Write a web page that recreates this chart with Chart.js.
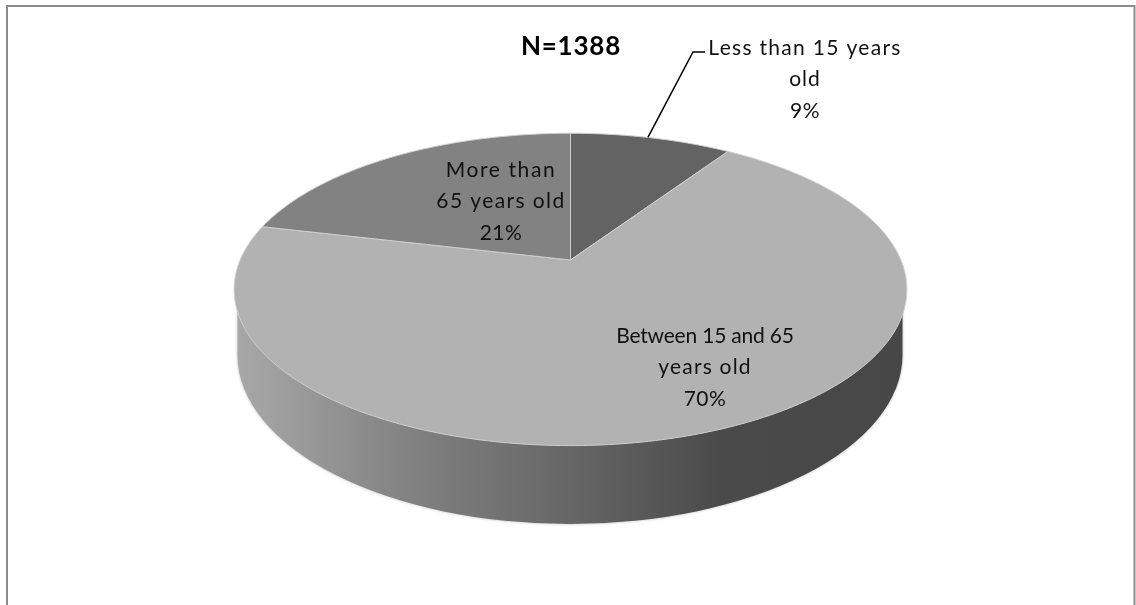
<!DOCTYPE html>
<html>
<head>
<meta charset="utf-8">
<style>html,body{margin:0;padding:0;background:#fff}canvas{display:block}</style>
<script src="https://cdn.jsdelivr.net/npm/chart.js@4/dist/chart.umd.js"></script>
</head>
<body>
<canvas id="c" width="1136" height="605"></canvas>
<script>
const categories = ['Less than 15 years old', 'Between 15 and 65 years old', 'More than 65 years old'];
const shares = [9.3, 69.4, 21.3];
const percentLabels = ['9%', '70%', '21%'];
const sliceColors = ['#636363', '#b2b2b2', '#828282'];
const labelLines = [['Less than 15 years', 'old'], ['Between 15 and 65', 'years old'], ['More than', '65 years old']];
const labelCentres = [[805, 48], [705, 336], [501, 170]];
const labelSpacing = [[1.3, 1, 0.5], [-0.2, 1.2, 0.5], [1.6, 1.4, 0.5]];
const chartTitle = 'N=1388';

// perspective of the pie plane
const persp = { rx: 331 / 260, ry: 150.9 / 260, c: -0.1885 };
const wall = { dx: -0.5, dy: 95, rx: 332.5, ry: 169, shoulder: 52 };

function project(arc, angle, rho) {
  const R = arc.outerRadius;
  const u = Math.cos(angle) * rho, v = Math.sin(angle) * rho;
  const d = 1 + persp.c * v;
  return [arc.x + persp.rx * R * u / d, arc.y + persp.ry * R * v / d];
}

class PerspectiveArc extends Chart.ArcElement {
  static id = 'perspectiveArc';
  draw(ctx) {
    const o = this.options;
    const a0 = this.startAngle, a1 = this.endAngle;
    const n = Math.max(8, Math.ceil((a1 - a0) * 60));
    ctx.save();
    ctx.beginPath();
    ctx.moveTo(this.x, this.y);
    for (let i = 0; i <= n; i++) {
      const p = project(this, a0 + (a1 - a0) * i / n, 1);
      ctx.lineTo(p[0], p[1]);
    }
    ctx.closePath();
    ctx.fillStyle = o.backgroundColor;
    ctx.fill();
    ctx.lineJoin = 'round';
    ctx.lineWidth = o.borderWidth;
    ctx.strokeStyle = o.borderColor;
    ctx.stroke();
    ctx.restore();
  }
}
class PerspectivePie extends Chart.DoughnutController {
  static id = 'perspectivePie';
  static defaults = { ...Chart.DoughnutController.defaults, dataElementType: 'perspectiveArc' };
}
Chart.register(PerspectiveArc, PerspectivePie);

const framePlugin = {
  id: 'frame',
  beforeDraw(chart) {
    const ctx = chart.ctx;
    ctx.save();
    ctx.fillStyle = '#fff';
    ctx.fillRect(0, 0, chart.width, chart.height);
    ctx.strokeStyle = '#8c8c8c';
    ctx.lineWidth = 2;
    ctx.beginPath();
    ctx.moveTo(7, chart.height);
    ctx.lineTo(7, 6);
    ctx.lineTo(1134.5, 6);
    ctx.lineTo(1134.5, chart.height);
    ctx.stroke();
    ctx.restore();
  }
};

const wallPlugin = {
  id: 'wall',
  beforeDatasetsDraw(chart) {
    const arc = chart.getDatasetMeta(0).data[0];
    const ctx = chart.ctx;
    const cx = arc.x + wall.dx, cy = arc.y + wall.dy;
    const g = ctx.createLinearGradient(cx - wall.rx, 0, cx + wall.rx, 0);
    g.addColorStop(0, '#a8a8a8');
    g.addColorStop(0.27, '#808080');
    g.addColorStop(0.5, '#666666');
    g.addColorStop(0.73, '#4a4a4a');
    g.addColorStop(1, '#474747');
    ctx.save();
    ctx.beginPath();
    ctx.moveTo(cx - wall.rx, cy - wall.shoulder);
    ctx.lineTo(cx - wall.rx, cy);
    ctx.ellipse(cx, cy, wall.rx, wall.ry, 0, Math.PI, 0, true);
    ctx.lineTo(cx + wall.rx, cy - wall.shoulder);
    ctx.closePath();
    ctx.fillStyle = g;
    ctx.shadowColor = 'rgba(120,120,120,0.55)';
    ctx.shadowBlur = 3;
    ctx.fill();
    ctx.restore();
  }
};

const textPlugin = {
  id: 'texts',
  afterDatasetsDraw(chart) {
    const ctx = chart.ctx;
    const step = 31.5;
    ctx.save();
    // leader line of the first slice
    const mid = chart.getDatasetMeta(0).data[0];
    const anchor = project(mid, mid.startAngle + (mid.endAngle - mid.startAngle) * 0.48, 1);
    ctx.strokeStyle = '#000';
    ctx.lineWidth = 1.5;
    ctx.beginPath();
    ctx.moveTo(anchor[0], anchor[1]);
    ctx.lineTo(693, 52);
    ctx.lineTo(705, 52);
    ctx.stroke();

    ctx.fillStyle = '#000';
    ctx.textAlign = 'center';
    ctx.textBaseline = 'middle';
    ctx.font = 'bold 26px Lato';
    ctx.letterSpacing = '0.8px';
    ctx.fillText(chartTitle, 571, 47);
    ctx.fillStyle = '#111';
    ctx.font = '21px Lato';
    labelLines.forEach((lines, i) => {
      const [x, y] = labelCentres[i];
      const all = lines.concat(percentLabels[i]);
      all.forEach((t, j) => {
        ctx.letterSpacing = labelSpacing[i][j] + 'px';
        ctx.fillText(t, x, y + j * step);
      });
    });
    ctx.restore();
  }
};

new Chart(document.getElementById('c'), {
  type: 'perspectivePie',
  data: {
    labels: categories,
    datasets: [{
      data: shares,
      backgroundColor: sliceColors,
      borderColor: '#cfcfcf',
      borderWidth: 1
    }]
  },
  options: {
    responsive: false,
    animation: false,
    cutout: 0,
    events: [],
    layout: { padding: { left: 5, right: 0, top: 0, bottom: 85 } },
    plugins: { legend: { display: false }, tooltip: { enabled: false }, title: { display: false } }
  },
  plugins: [framePlugin, wallPlugin, textPlugin]
});
</script>
</body>
</html>
